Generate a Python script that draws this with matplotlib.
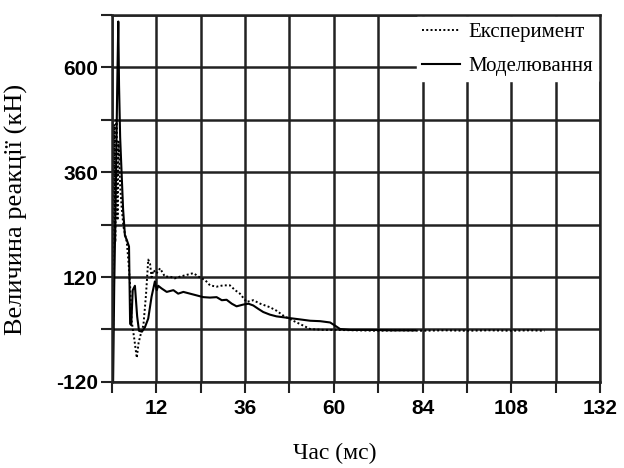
import matplotlib
matplotlib.use("Agg")
import matplotlib.pyplot as plt

# data
model_t = [0.3, 0.6, 1.0, 1.4, 1.7, 1.9, 2.2, 3.0, 3.5, 4.0, 4.6, 4.9, 5.2, 5.6, 6.2,
           6.8, 7.3, 8.1, 8.9, 9.8, 10.7, 11.6, 12.1, 12.5, 13.4, 14.8, 16.6, 17.9,
           19.3, 21.1, 22.9, 24.7, 26.5, 28.3, 29.7, 31.0, 32.4, 33.7, 35.5, 36.9,
           38.2, 39.6, 40.9, 42.7, 44.5, 46.3, 48.1, 50.9, 53.6, 56.3, 59.0, 60.3,
           61.7, 64.4, 70, 76, 82]
model_f = [-120, 100, 300, 550, 705, 560, 440, 275, 215, 205, 190, 13, 10, 90, 100,
           30, -3, -5, 5, 25, 75, 110, 90, 100, 94, 86, 90, 82,
           86, 82, 78, 74, 73, 74, 67, 68, 59, 53, 57, 59,
           55, 47, 40, 34, 30, 28, 26, 23, 20, 19, 16, 9,
           1, -1, -1, -2, -2]

exp_t = [0.3, 0.6, 0.9, 1.2, 1.5, 1.8, 2.2, 2.6, 3.1, 3.6, 4.0, 4.5, 4.9, 5.3, 6.0,
         6.7, 7.2, 7.8, 8.5, 9.2, 9.8, 10.3, 10.7, 11.2, 12.0, 13.0, 14.3, 15.7,
         17.0, 18.4, 20.2, 22.0, 23.8, 25.2, 26.5, 28.3, 30.1, 31.9, 33.3, 34.6,
         36.4, 38.2, 40.1, 42.7, 44.5, 46.3, 49.0, 51.7, 53.6, 57.2, 60.8, 66, 72,
         78, 84, 90, 96, 102, 108, 113, 117]
exp_f = [0, 470, 200, 480, 250, 430, 330, 280, 235, 215, 200, 150, 100, 20, -20,
         -65, -30, -10, 10, 80, 160, 150, 120, 136, 128, 140, 121, 121,
         117, 121, 125, 129, 119, 113, 101, 98, 101, 101, 90, 82,
         63, 67, 59, 51, 43, 32, 20, 9, 1, -1, -1, -2, -3,
         -2, -3, -2, -3, -2, -3, -2, -3]

x_ticks = list(range(0, 133, 12))
x_labels = ["" if t % 24 == 0 else str(t) for t in x_ticks]
y_ticks = list(range(-120, 721, 120))
y_labels = [str(t) if t in (-120, 120, 360, 600) else "" for t in y_ticks]

fig = plt.figure(figsize=(6.24, 4.68), dpi=100)
ax = fig.add_axes([0.1795, 0.184, 0.782, 0.784])

ax.plot(exp_t, exp_f, color="black", lw=1.4, linestyle=(0, (1, 1.2)), label="Експеримент")
ax.plot(model_t, model_f, color="black", lw=1.5, label="Моделювання")

ax.set_xlim(0, 132)
ax.set_ylim(-120, 720)
ax.set_xticks(x_ticks)
ax.set_xticklabels(x_labels)
ax.set_yticks(y_ticks)
ax.set_yticklabels(y_labels)
ax.grid(True, color="#222222", lw=1.8)
ax.set_axisbelow(True)
for s in ax.spines.values():
    s.set_color("#222222")
    s.set_linewidth(1.8)
ax.tick_params(direction="out", length=8, width=1.5, color="#222222", pad=2)
ax.tick_params(axis="x", pad=4)
for lab in ax.get_xticklabels() + ax.get_yticklabels():
    lab.set_fontfamily("Liberation Sans")
    lab.set_fontweight("bold")
    lab.set_fontsize(15)

ax.set_xlabel("Час (мс)", fontfamily="Liberation Serif", fontsize=17)
ax.set_ylabel("Величина реакції (кН)", fontfamily="Liberation Serif", fontsize=19)
ax.xaxis.set_label_coords(0.457, -0.165)
ax.yaxis.set_label_coords(-0.172, 0.47)

leg = ax.legend(loc="upper right", prop={"family": "Liberation Serif", "size": 15},
                frameon=True, fancybox=False, edgecolor="white", framealpha=1,
                borderaxespad=0.1, borderpad=0.25, handlelength=1.8,
                handletextpad=0.4, labelspacing=0.7)

fig.savefig("out.png", dpi=100)
